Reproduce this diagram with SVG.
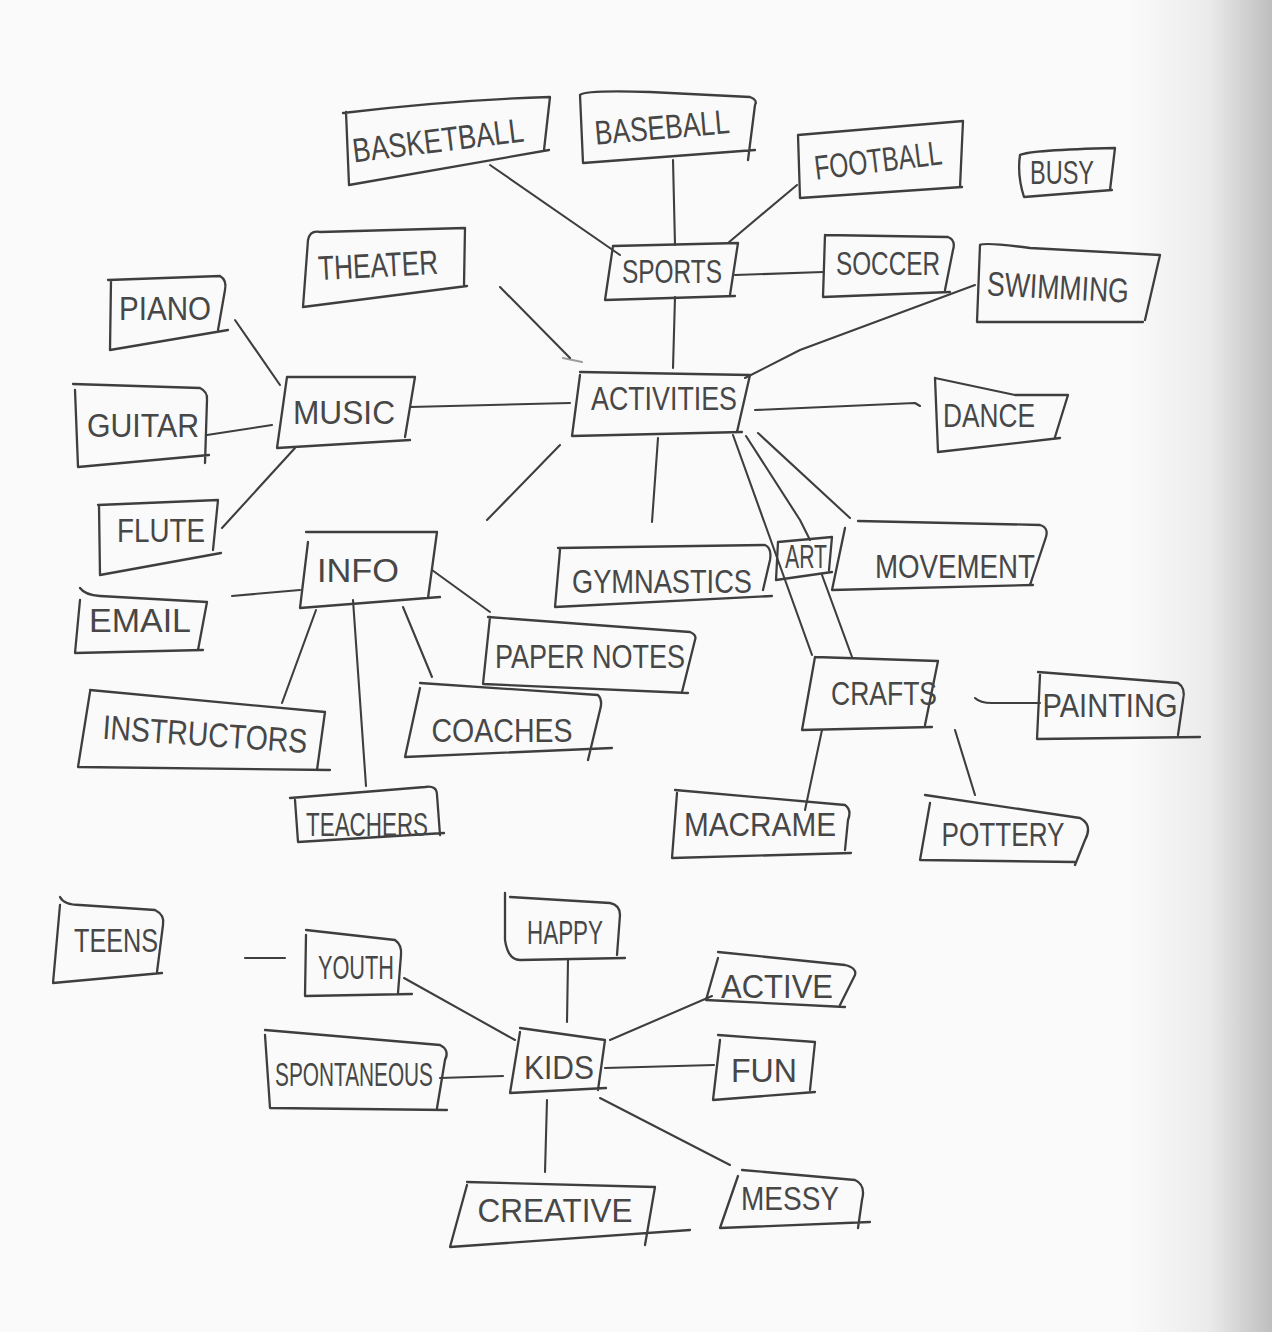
<svg xmlns="http://www.w3.org/2000/svg" width="1272" height="1332" viewBox="0 0 1272 1332">
  <defs>
    <linearGradient id="pageCurl" x1="0" y1="0" x2="1" y2="0">
      <stop offset="0" stop-color="#000" stop-opacity="0"/>
      <stop offset="0.55" stop-color="#000" stop-opacity="0.06"/>
      <stop offset="1" stop-color="#000" stop-opacity="0.24"/>
    </linearGradient>
    <style>
      .box { fill: none; stroke: #3e3e3e; stroke-width: 2.3; stroke-linecap: round; stroke-linejoin: round; }
      .wire { fill: none; stroke: #3e3e3e; stroke-width: 2.1; stroke-linecap: round; stroke-linejoin: round; }
      .lbl { font-family: "Liberation Sans Narrow", "Liberation Sans", sans-serif; fill: #474747; font-size: 34px; text-anchor: middle; dominant-baseline: central; }
    </style>
  </defs>

  <!-- paper -->
  <rect x="0" y="0" width="1272" height="1332" fill="#fafafa"/>
  <rect x="1130" y="0" width="142" height="1332" fill="url(#pageCurl)"/>

  <!-- connectors -->
  <g id="connectors">
    <path class="wire" d="M490,165 L620,255"/>
    <path class="wire" d="M673,160 L675,245"/>
    <path class="wire" d="M797,185 L728,243"/>
    <path class="wire" d="M735,275 L823,272"/>
    <path class="wire" d="M675,297 L673,368"/>
    <path class="wire" d="M500,287 L570,358"/>
    <path class="wire" d="M563,358 L582,362" stroke-opacity="0.5" stroke-width="4"/>
    <path class="wire" d="M975,285 L800,350 L745,378"/>
    <path class="wire" d="M410,407 L570,403"/>
    <path class="wire" d="M755,410 L915,403 L920,406"/>
    <path class="wire" d="M560,445 L487,520"/>
    <path class="wire" d="M658,438 L652,522"/>
    <path class="wire" d="M733,435 L812,655"/>
    <path class="wire" d="M746,436 L800,520 L810,540"/>
    <path class="wire" d="M822,575 L852,657"/>
    <path class="wire" d="M758,433 L850,518"/>
    <path class="wire" d="M235,320 L280,385"/>
    <path class="wire" d="M207,435 L272,425"/>
    <path class="wire" d="M222,528 L295,448"/>
    <path class="wire" d="M232,596 L300,590"/>
    <path class="wire" d="M432,570 L490,612"/>
    <path class="wire" d="M316,610 L282,703"/>
    <path class="wire" d="M353,600 L366,786"/>
    <path class="wire" d="M403,607 L432,677"/>
    <path class="wire" d="M975,698 Q980,703 992,703 L1040,703"/>
    <path class="wire" d="M822,730 L805,810"/>
    <path class="wire" d="M955,730 L975,795"/>
    <path class="wire" d="M245,958 L285,958"/>
    <path class="wire" d="M404,978 L515,1040"/>
    <path class="wire" d="M568,960 L567,1022"/>
    <path class="wire" d="M712,996 L610,1040"/>
    <path class="wire" d="M440,1078 L503,1076"/>
    <path class="wire" d="M605,1068 L714,1065"/>
    <path class="wire" d="M547,1100 L545,1172"/>
    <path class="wire" d="M600,1098 L730,1165"/>
  </g>

  <!-- sports branch -->
  <g id="basketball"><path class="box" d="M343,113 Q450,100 550,97 L544,150 M549,150 L349,185 L346,112"/><text class="lbl" x="438" y="140" textLength="172" lengthAdjust="spacingAndGlyphs" transform="rotate(-7 438 140)">BASKETBALL</text></g>
  <g id="baseball"><path class="box" d="M580,95 Q585,90 650,92 L750,97 Q758,100 755,105 L748,160 M755,150 L583,163 L580,95"/><text class="lbl" x="662" y="127" textLength="135" lengthAdjust="spacingAndGlyphs" transform="rotate(-5 662 127)">BASEBALL</text></g>
  <g id="football"><path class="box" d="M798,135 L963,121 L960,187 M962,187 L800,198 L798,135"/><text class="lbl" x="878" y="160" textLength="128" lengthAdjust="spacingAndGlyphs" transform="rotate(-7 878 160)">FOOTBALL</text></g>
  <g id="busy"><path class="box" d="M1020,155 Q1030,150 1115,148 L1110,190 M1112,190 L1024,197 Q1017,175 1020,155"/><text class="lbl" x="1062" y="172" textLength="64" lengthAdjust="spacingAndGlyphs">BUSY</text></g>
  <g id="theater"><path class="box" d="M308,240 Q310,230 320,232 L465,228 L464,285 M467,286 L303,307 L308,240"/><text class="lbl" x="378" y="265" textLength="120" lengthAdjust="spacingAndGlyphs" transform="rotate(-3 378 265)">THEATER</text></g>
  <g id="sports"><path class="box" d="M613,246 L738,243 L730,295 M735,296 L605,300 L613,246"/><text class="lbl" x="672" y="271" textLength="100" lengthAdjust="spacingAndGlyphs">SPORTS</text></g>
  <g id="soccer"><path class="box" d="M825,235 L948,237 Q956,240 953,250 L945,290 M950,292 L823,297 L825,235"/><text class="lbl" x="888" y="263" textLength="104" lengthAdjust="spacingAndGlyphs">SOCCER</text></g>
  <g id="swimming"><path class="box" d="M980,245 Q985,242 1030,248 L1160,255 L1145,320 M1143,322 L977,322 L980,245"/><text class="lbl" x="1058" y="287" textLength="142" lengthAdjust="spacingAndGlyphs" transform="rotate(3 1058 287)">SWIMMING</text></g>

  <!-- music branch -->
  <g id="piano"><path class="box" d="M108,280 L220,276 Q227,280 225,290 L218,330 M228,330 L110,350 L111,280"/><text class="lbl" x="165" y="308" textLength="92" lengthAdjust="spacingAndGlyphs">PIANO</text></g>
  <g id="music"><path class="box" d="M287,377 L415,377 L405,437 M410,440 L277,448 L287,377"/><text class="lbl" x="344" y="412" textLength="102" lengthAdjust="spacingAndGlyphs">MUSIC</text></g>
  <g id="guitar"><path class="box" d="M73,384 L200,388 Q208,392 207,400 L205,463 M209,455 L78,467 L75,390"/><text class="lbl" x="143" y="425" textLength="112" lengthAdjust="spacingAndGlyphs">GUITAR</text></g>
  <g id="flute"><path class="box" d="M98,505 L218,500 L213,550 M221,553 L100,575 L99,505"/><text class="lbl" x="161" y="530" textLength="88" lengthAdjust="spacingAndGlyphs">FLUTE</text></g>

  <!-- hub -->
  <g id="activities"><path class="box" d="M580,372 L750,375 L737,432 M742,432 L572,436 L580,375"/><text class="lbl" x="664" y="398" textLength="146" lengthAdjust="spacingAndGlyphs">ACTIVITIES</text></g>
  <g id="dance"><path class="box" d="M935,378 L1015,395 L1068,395 L1055,437 M1060,438 L938,452 L935,378"/><text class="lbl" x="989" y="415" textLength="92" lengthAdjust="spacingAndGlyphs">DANCE</text></g>
  <g id="gymnastics"><path class="box" d="M558,548 L765,545 Q772,548 770,560 L763,590 M772,596 L555,607 L560,550"/><text class="lbl" x="662" y="581" textLength="180" lengthAdjust="spacingAndGlyphs">GYMNASTICS</text></g>
  <g id="art"><path class="box" d="M778,542 L832,537 L829,570 M832,572 L776,580 L778,542"/><text class="lbl" x="806" y="556" font-size="26" textLength="42" lengthAdjust="spacingAndGlyphs">ART</text></g>
  <g id="movement"><path class="box" d="M858,521 L1040,525 Q1050,528 1045,540 L1030,585 M1033,585 L832,590 L845,528"/><text class="lbl" x="955" y="566" textLength="160" lengthAdjust="spacingAndGlyphs">MOVEMENT</text></g>

  <!-- info branch -->
  <g id="info"><path class="box" d="M306,532 L437,532 L428,598 M440,597 L300,608 L308,542"/><text class="lbl" x="358" y="570" textLength="82" lengthAdjust="spacingAndGlyphs">INFO</text></g>
  <g id="email"><path class="box" d="M80,588 Q85,595 100,596 L207,602 L198,650 M203,650 L75,653 L80,600"/><text class="lbl" x="140" y="620" textLength="102" lengthAdjust="spacingAndGlyphs">EMAIL</text></g>
  <g id="paper-notes"><path class="box" d="M488,617 L690,632 Q697,635 695,640 L682,692 M688,693 L483,684 L490,617"/><text class="lbl" x="590" y="656" textLength="190" lengthAdjust="spacingAndGlyphs">PAPER NOTES</text></g>
  <g id="instructors"><path class="box" d="M90,690 L325,712 L317,770 M330,770 L78,767 L90,692"/><text class="lbl" x="205" y="734" textLength="205" lengthAdjust="spacingAndGlyphs" transform="rotate(4 205 734)">INSTRUCTORS</text></g>
  <g id="coaches"><path class="box" d="M420,683 L598,695 Q603,700 600,710 L588,760 M612,748 L405,757 L420,688"/><text class="lbl" x="502" y="730" textLength="141" lengthAdjust="spacingAndGlyphs">COACHES</text></g>
  <g id="teachers"><path class="box" d="M290,798 L425,787 Q437,785 437,795 L440,835 M444,833 L298,842 L295,800"/><text class="lbl" x="367" y="824" textLength="122" lengthAdjust="spacingAndGlyphs">TEACHERS</text></g>

  <!-- crafts branch -->
  <g id="crafts"><path class="box" d="M815,657 L938,661 L925,725 M932,727 L802,730 L815,657"/><text class="lbl" x="884" y="693" textLength="106" lengthAdjust="spacingAndGlyphs">CRAFTS</text></g>
  <g id="painting"><path class="box" d="M1038,672 L1178,683 Q1186,688 1183,700 L1178,735 M1200,737 L1037,739 L1040,675"/><text class="lbl" x="1110" y="705" textLength="135" lengthAdjust="spacingAndGlyphs">PAINTING</text></g>
  <g id="macrame"><path class="box" d="M675,790 L845,805 Q852,810 848,820 L845,850 M851,853 L672,858 L677,793"/><text class="lbl" x="760" y="824" textLength="152" lengthAdjust="spacingAndGlyphs">MACRAME</text></g>
  <g id="pottery"><path class="box" d="M925,795 L1080,818 Q1093,825 1085,840 L1075,865 M1075,862 L920,860 L930,803"/><text class="lbl" x="1003" y="834" textLength="123" lengthAdjust="spacingAndGlyphs">POTTERY</text></g>

  <!-- kids cluster -->
  <g id="teens"><path class="box" d="M60,897 Q64,905 80,905 L155,910 Q165,915 163,925 L157,972 M162,973 L53,983 L60,905"/><text class="lbl" x="116" y="940" textLength="84" lengthAdjust="spacingAndGlyphs">TEENS</text></g>
  <g id="youth"><path class="box" d="M306,930 L395,940 Q402,945 401,955 L398,993 M412,994 L305,996 L306,935"/><text class="lbl" x="356" y="967" textLength="76" lengthAdjust="spacingAndGlyphs">YOUTH</text></g>
  <g id="happy"><path class="box" d="M505,893 L505,940 Q508,960 520,960 L625,958 M617,955 L620,915 Q620,905 610,903 L510,897"/><text class="lbl" x="565" y="932" textLength="76" lengthAdjust="spacingAndGlyphs">HAPPY</text></g>
  <g id="active"><path class="box" d="M718,952 L845,965 Q857,968 855,975 L840,1005 M845,1007 L706,1000 L718,958"/><text class="lbl" x="777" y="986" textLength="112" lengthAdjust="spacingAndGlyphs">ACTIVE</text></g>
  <g id="kids"><path class="box" d="M520,1028 L605,1040 L598,1090 M606,1088 L510,1093 L520,1032"/><text class="lbl" x="559" y="1067" textLength="70" lengthAdjust="spacingAndGlyphs">KIDS</text></g>
  <g id="fun"><path class="box" d="M718,1035 L815,1042 L810,1090 M815,1092 L713,1100 L720,1040"/><text class="lbl" x="764" y="1070" textLength="66" lengthAdjust="spacingAndGlyphs">FUN</text></g>
  <g id="spontaneous"><path class="box" d="M265,1030 L440,1045 Q450,1050 445,1060 L437,1108 M447,1110 L270,1108 L265,1035"/><text class="lbl" x="354" y="1074" textLength="158" lengthAdjust="spacingAndGlyphs">SPONTANEOUS</text></g>
  <g id="creative"><path class="box" d="M467,1182 L655,1187 L645,1245 M690,1230 L450,1247 L467,1185"/><text class="lbl" x="555" y="1210" textLength="155" lengthAdjust="spacingAndGlyphs">CREATIVE</text></g>
  <g id="messy"><path class="box" d="M742,1170 L855,1180 Q866,1185 862,1200 L858,1228 M870,1222 L720,1228 L738,1176"/><text class="lbl" x="790" y="1198" textLength="98" lengthAdjust="spacingAndGlyphs">MESSY</text></g>
</svg>
